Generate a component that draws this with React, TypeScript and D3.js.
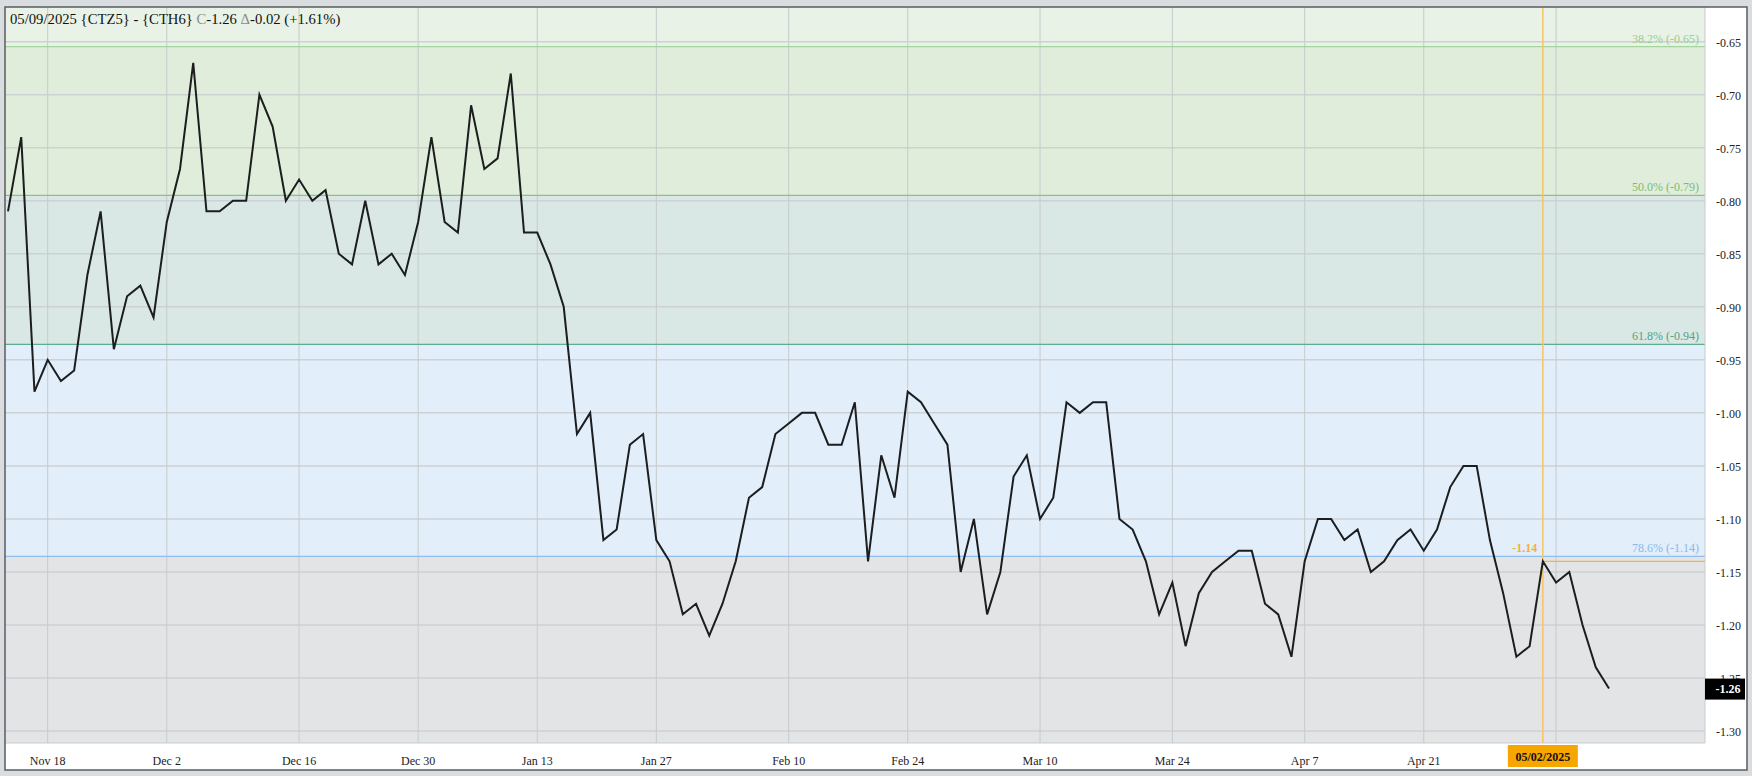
import React from "react";
import * as d3 from "d3";

// trading days shown on the chart
const dates = [
  "2024-11-13", "2024-11-14", "2024-11-15", "2024-11-18", "2024-11-19", "2024-11-20", "2024-11-21", "2024-11-22",
  "2024-11-25", "2024-11-26", "2024-11-27", "2024-11-29",
  "2024-12-02", "2024-12-03", "2024-12-04", "2024-12-05", "2024-12-06", "2024-12-09", "2024-12-10", "2024-12-11",
  "2024-12-12", "2024-12-13", "2024-12-16", "2024-12-17", "2024-12-18", "2024-12-19", "2024-12-20", "2024-12-23",
  "2024-12-24", "2024-12-26", "2024-12-27", "2024-12-30", "2024-12-31",
  "2025-01-02", "2025-01-03", "2025-01-06", "2025-01-07", "2025-01-08", "2025-01-09", "2025-01-10", "2025-01-13",
  "2025-01-14", "2025-01-15", "2025-01-16", "2025-01-17", "2025-01-21", "2025-01-22", "2025-01-23", "2025-01-24",
  "2025-01-27", "2025-01-28", "2025-01-29", "2025-01-30", "2025-01-31",
  "2025-02-03", "2025-02-04", "2025-02-05", "2025-02-06", "2025-02-07", "2025-02-10", "2025-02-11", "2025-02-12",
  "2025-02-13", "2025-02-14", "2025-02-18", "2025-02-19", "2025-02-20", "2025-02-21", "2025-02-24", "2025-02-25",
  "2025-02-26", "2025-02-27", "2025-02-28",
  "2025-03-03", "2025-03-04", "2025-03-05", "2025-03-06", "2025-03-07", "2025-03-10", "2025-03-11", "2025-03-12",
  "2025-03-13", "2025-03-14", "2025-03-17", "2025-03-18", "2025-03-19", "2025-03-20", "2025-03-21", "2025-03-24",
  "2025-03-25", "2025-03-26", "2025-03-27", "2025-03-28", "2025-03-31",
  "2025-04-01", "2025-04-02", "2025-04-03", "2025-04-04", "2025-04-07", "2025-04-08", "2025-04-09", "2025-04-10",
  "2025-04-11", "2025-04-14", "2025-04-15", "2025-04-16", "2025-04-17", "2025-04-21", "2025-04-22", "2025-04-23",
  "2025-04-24", "2025-04-25", "2025-04-28", "2025-04-29", "2025-04-30",
  "2025-05-01", "2025-05-02", "2025-05-05", "2025-05-06", "2025-05-07", "2025-05-08", "2025-05-09",
];

// CTZ5 - CTH6 spread closes
const spread = [
  -0.81, -0.74, -0.98, -0.95, -0.97, -0.96, -0.87, -0.81, -0.94, -0.89, -0.88, -0.91,
  -0.82, -0.77, -0.67, -0.81, -0.81, -0.80, -0.80, -0.70, -0.73, -0.80, -0.78, -0.80,
  -0.79, -0.85, -0.86, -0.80, -0.86, -0.85, -0.87, -0.82, -0.74,
  -0.82, -0.83, -0.71, -0.77, -0.76, -0.68, -0.83, -0.83, -0.86, -0.90, -1.02, -1.00,
  -1.12, -1.11, -1.03, -1.02, -1.12, -1.14, -1.19, -1.18, -1.21,
  -1.18, -1.14, -1.08, -1.07, -1.02, -1.01, -1.00, -1.00, -1.03, -1.03, -0.99, -1.14,
  -1.04, -1.08, -0.98, -0.99, -1.01, -1.03, -1.15,
  -1.10, -1.19, -1.15, -1.06, -1.04, -1.10, -1.08, -0.99, -1.00, -0.99, -0.99, -1.10,
  -1.11, -1.14, -1.19, -1.16, -1.22, -1.17, -1.15, -1.14, -1.13, -1.13,
  -1.18, -1.19, -1.23, -1.14, -1.10, -1.10, -1.12, -1.11, -1.15, -1.14, -1.12, -1.11,
  -1.13, -1.11, -1.07, -1.05, -1.05, -1.12, -1.17, -1.23, -1.22,
  -1.14, -1.16, -1.15, -1.20, -1.24, -1.26,
];

// the May 5 line has no label: the marker date box sits over it
const tickDates = [
  "2024-11-18", "2024-12-02", "2024-12-16", "2024-12-30", "2025-01-13", "2025-01-27", "2025-02-10",
  "2025-02-24", "2025-03-10", "2025-03-24", "2025-04-07", "2025-04-21", "2025-05-05",
];
const tickLabels = [
  "Nov 18", "Dec 2", "Dec 16", "Dec 30", "Jan 13", "Jan 27", "Feb 10",
  "Feb 24", "Mar 10", "Mar 24", "Apr 7", "Apr 21", "",
];

const yTicks = [-0.65, -0.7, -0.75, -0.8, -0.85, -0.9, -0.95, -1.0, -1.05, -1.1, -1.15, -1.2, -1.25, -1.3];

// fibonacci retracement levels
const fibValues = [-0.6546, -0.795, -0.9354, -1.1353];
const fibLabels = ["38.2% (-0.65)", "50.0% (-0.79)", "61.8% (-0.94)", "78.6% (-1.14)"];
const fibLineColors = ["#a6d49e", "#8cc183", "#5ead93", "#8fbdee"];
const fibTextColors = ["#9ccd93", "#7fba74", "#4fa386", "#8ab8ec"];
const bandColors = ["#e8f2e6", "#e0eddb", "#d9e8e4", "#e2eefa", "#e3e4e5"];

const markerDate = "2025-05-02";
const markerValue = -1.14;

const W = 1752;
const H = 776;
const frame = { left: 5, top: 7, right: 1747, bottom: 770 };
const plot = { left: 5, top: 7, right: 1705, bottom: 743 };
const font = "'Liberation Serif', 'DejaVu Serif', serif";

export default function App() {
  const x = d3.scalePoint<string>().domain(dates).range([8, 1609]);
  const y = d3.scaleLinear().domain([-0.65, -1.3]).range([41.7, 731]);

  const line = d3
    .line<number>()
    .x((_, i) => x(dates[i]) as number)
    .y((d) => y(d));

  const bandEdges = [plot.top, ...fibValues.map((v) => y(v)), plot.bottom];
  const lastValue = spread[spread.length - 1];
  const mx = x(markerDate) as number;
  const my = y(markerValue);
  const ly = y(lastValue);

  return (
    <div style={{ position: "absolute", left: 0, top: 0 }}>
      <style>{`body{margin:0}`}</style>
      <svg width={W} height={H} style={{ display: "block", fontFamily: font }}>
        <rect x={0} y={0} width={W} height={H} fill="#dadde0" />
        <rect
          x={frame.left}
          y={frame.top}
          width={frame.right - frame.left}
          height={frame.bottom - frame.top}
          fill="#ffffff"
        />

        {/* retracement bands */}
        {bandColors.map((c, i) => (
          <rect
            key={"band" + i}
            x={plot.left}
            y={bandEdges[i]}
            width={plot.right - plot.left}
            height={bandEdges[i + 1] - bandEdges[i]}
            fill={c}
          />
        ))}

        {/* grid */}
        {yTicks.map((t) => (
          <line
            key={"gy" + t}
            x1={plot.left}
            x2={plot.right}
            y1={y(t)}
            y2={y(t)}
            stroke="#cdd1d4"
            strokeWidth={1.5}
          />
        ))}
        {tickDates.map((d) => (
          <line
            key={"gx" + d}
            x1={x(d)}
            x2={x(d)}
            y1={plot.top}
            y2={plot.bottom}
            stroke="#c6cbcc"
            strokeWidth={1}
          />
        ))}

        {/* fib lines */}
        {fibValues.map((v, i) => (
          <g key={"fib" + i}>
            <line x1={plot.left} x2={plot.right} y1={y(v)} y2={y(v)} stroke={fibLineColors[i]} strokeWidth={1.3} />
            <text x={1699} y={y(v) - 4} textAnchor="end" fontSize={12} fill={fibTextColors[i]}>
              {fibLabels[i]}
            </text>
          </g>
        ))}

        {/* plot border */}
        <line x1={plot.right} x2={plot.right} y1={plot.top} y2={plot.bottom} stroke="#c9cccf" strokeWidth={1} />
        <line x1={plot.left} x2={plot.right} y1={plot.bottom} y2={plot.bottom} stroke="#c9cccf" strokeWidth={1} />

        {/* marker lines */}
        <line x1={mx} x2={mx} y1={plot.top} y2={plot.bottom} stroke="#f6c463" strokeWidth={1.5} />
        <line x1={mx} x2={plot.right} y1={my} y2={my} stroke="#f2b444" strokeWidth={1.2} />
        <text x={mx - 18} y={my - 9} textAnchor="middle" fontSize={12} fontWeight="bold" fill="#f5b134">
          {markerValue.toFixed(2)}
        </text>

        {/* spread line */}
        <path d={line(spread) ?? ""} fill="none" stroke="#1b1d1f" strokeWidth={2} strokeLinejoin="miter" />

        {/* y axis labels */}
        {yTicks.map((t) => (
          <text key={"ty" + t} x={1716} y={y(t) + 5} fontSize={12} fill="#222">
            {t.toFixed(2)}
          </text>
        ))}

        {/* x axis labels */}
        {tickDates.map((d, i) =>
          tickLabels[i] ? (
            <text key={"tx" + d} x={x(d)} y={765} textAnchor="middle" fontSize={12} fill="#222">
              {tickLabels[i]}
            </text>
          ) : null
        )}

        {/* last value box */}
        <rect x={plot.right} y={ly - 10} width={40} height={21} fill="#000" />
        <text x={1728} y={ly + 4.5} textAnchor="middle" fontSize={12} fontWeight="bold" fill="#fff">
          {lastValue.toFixed(2)}
        </text>

        {/* marker date box */}
        <rect x={mx - 35} y={745} width={70} height={22} fill="#f7a600" />
        <text x={mx} y={761} textAnchor="middle" fontSize={12} fontWeight="bold" fill="#111">
          05/02/2025
        </text>

        {/* frame */}
        <rect
          x={frame.left}
          y={frame.top}
          width={frame.right - frame.left}
          height={frame.bottom - frame.top}
          fill="none"
          stroke="#5a5d60"
          strokeWidth={1.5}
        />

        {/* header */}
        <text x={10} y={24} fontSize={14.7} fill="#111">
          05/09/2025 {"{CTZ5}"} - {"{CTH6}"} <tspan fill="#8a8a8a">C</tspan>-1.26{" "}
          <tspan fill="#8a8a8a">Δ</tspan>-0.02 (+1.61%)
        </text>
      </svg>
    </div>
  );
}
